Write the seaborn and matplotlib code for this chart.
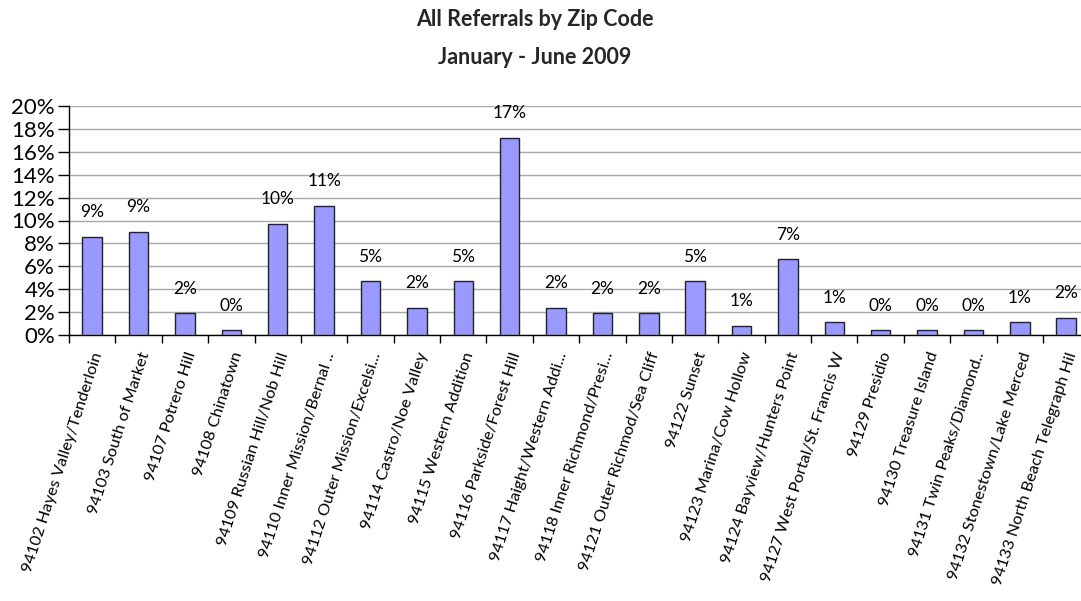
import matplotlib
matplotlib.use("Agg")
import matplotlib.pyplot as plt
import seaborn as sns
import pandas as pd
import numpy as np
from matplotlib.ticker import FixedLocator

categories = [
    "94102 Hayes Valley/Tenderloin",
    "94103 South of Market",
    "94107 Potrero Hill",
    "94108 Chinatown",
    "94109 Russian Hill/Nob Hill",
    "94110 Inner Mission/Bernal ..",
    "94112 Outer Mission/Excelsi...",
    "94114 Castro/Noe Valley",
    "94115 Western Addition",
    "94116 Parkside/Forest Hill",
    "94117 Haight/Western Addi...",
    "94118 Inner Richmond/Presi...",
    "94121 Outer Richmod/Sea Cliff",
    "94122 Sunset",
    "94123 Marina/Cow Hollow",
    "94124 Bayview/Hunters Point",
    "94127 West Portal/St. Francis W",
    "94129 Presidio",
    "94130 Treasure Island",
    "94131 Twin Peaks/Diamond..",
    "94132 Stonestown/Lake Merced",
    "94133 North Beach Telegraph Hil",
]
values = [8.6, 9.0, 1.9, 0.4, 9.7, 11.3, 4.7, 2.4, 4.7, 17.2, 2.4,
          1.9, 1.9, 4.7, 0.8, 6.6, 1.1, 0.4, 0.4, 0.4, 1.1, 1.5]
value_labels = ["9%", "9%", "2%", "0%", "10%", "11%", "5%", "2%", "5%", "17%", "2%",
                "2%", "2%", "5%", "1%", "7%", "1%", "0%", "0%", "0%", "1%", "2%"]
y_ticks = [0, 2, 4, 6, 8, 10, 12, 14, 16, 18, 20]

sns.set_theme(style="white")
plt.rcParams['font.family'] = ['Lato', 'DejaVu Sans']

df = pd.DataFrame({"zip": categories, "pct": values})

fig = plt.figure(figsize=(10.81, 6.01), dpi=100)
W, H = 1081, 601
ax = fig.add_axes([69 / W, (H - 335) / H, (1089.4 - 69) / W, 229 / H])

sns.barplot(data=df, x="zip", y="pct", color="#9999FF", saturation=1,
            edgecolor="#222222", linewidth=1.0, width=0.42, ax=ax, zorder=3)

ax.set_ylim(0, 20)
ax.set_xlim(-0.5, len(categories) - 0.5)
ax.set_yticks(y_ticks)
ax.set_yticklabels([f"{t}%" for t in y_ticks], fontsize=16, color="black")
ax.yaxis.grid(True, color="#a8a8a8", linewidth=1.0, zorder=0)
ax.xaxis.grid(False)
ax.tick_params(axis="y", which="both", left=True, length=8, width=1, color="black", pad=2)

# x ticks at category boundaries
ax.set_xticks(range(len(categories)))
ax.set_xticklabels(categories, rotation=72, ha="right", rotation_mode="anchor",
                   fontsize=11.8, color="black")
ax.tick_params(axis="x", which="major", bottom=False, length=0, pad=11)
ax.xaxis.set_minor_locator(FixedLocator(np.arange(-0.5, len(categories), 1.0)))
ax.tick_params(axis="x", which="minor", bottom=True, length=6, width=1, color="black")

for s in ["top", "right"]:
    ax.spines[s].set_visible(False)
for s in ["left", "bottom"]:
    ax.spines[s].set_visible(True)
    ax.spines[s].set_color("black")
    ax.spines[s].set_linewidth(1.0)

ax.set_xlabel("")
ax.set_ylabel("")

for i, (v, lab) in enumerate(zip(values, value_labels)):
    ax.annotate(lab, (i, v), xytext=(0, 12), textcoords="offset points",
                ha="center", va="bottom", fontsize=12.5, color="black")

fig.text(535 / W, 1 - 20 / H, "All Referrals by Zip Code", ha="center", va="center",
         fontsize=15.5, fontweight="bold")
fig.text(535 / W, 1 - 57 / H, "January - June 2009", ha="center", va="center",
         fontsize=15.5, fontweight="bold")

fig.savefig("out.png", dpi=100, facecolor="white")
